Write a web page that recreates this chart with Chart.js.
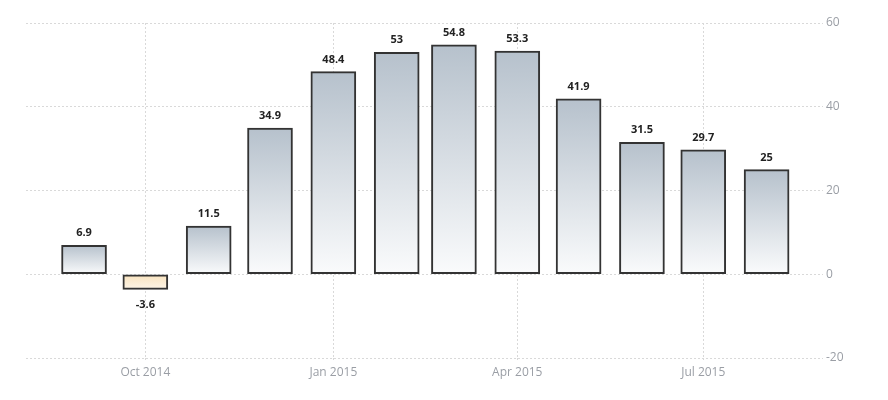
<!DOCTYPE html>
<html>
<head>
<meta charset="utf-8">
<script src="https://cdn.jsdelivr.net/npm/chart.js@4"></script>
<style>
  html, body { margin: 0; padding: 0; background: #fff; }
  #wrap { width: 888px; height: 400px; position: relative; }
</style>
</head>
<body>
<div id="wrap"><canvas id="c" width="888" height="400"></canvas></div>
<script>
// ---- data ----
const months = ['2014-09-01','2014-10-01','2014-11-01','2014-12-01','2015-01-01','2015-02-01',
                '2015-03-01','2015-04-01','2015-05-01','2015-06-01','2015-07-01','2015-08-01'];
const values = [6.9, -3.6, 11.5, 34.9, 48.4, 53, 54.8, 53.3, 41.9, 31.5, 29.7, 25];
const tickDates = ['2014-10-01','2015-01-01','2015-04-01','2015-07-01'];
const tickLabels = ['Oct 2014','Jan 2015','Apr 2015','Jul 2015'];
const yTicks = [-20, 0, 20, 40, 60];

const origin = Date.parse('2014-10-01T00:00:00Z');
const dayOf = d => (Date.parse(d + 'T00:00:00Z') - origin) / 86400000;

const gridColor = '#d9d9d9';
const labelColor = '#9a9ea5';

const valueLabels = {
  id: 'valueLabels',
  afterDatasetsDraw(chart) {
    const ctx = chart.ctx;
    const meta = chart.getDatasetMeta(0);
    ctx.save();
    ctx.font = 'bold 11px "Open Sans"';
    ctx.fillStyle = '#222';
    ctx.textAlign = 'center';
    ctx.textBaseline = 'middle';
    meta.data.forEach((bar, i) => {
      const v = values[i];
      const y = v >= 0 ? bar.y - 12 : bar.y + 16;
      ctx.fillText(String(v), bar.x, y);
    });
    ctx.restore();
  }
};

new Chart(document.getElementById('c'), {
  type: 'bar',
  data: {
    datasets: [{
      data: months.map((m, i) => ({ x: dayOf(m), y: values[i] })),
      barThickness: 45,
      borderWidth: 2,
      borderColor: '#333',
      borderSkipped: false,
      backgroundColor(ctx) {
        const chart = ctx.chart;
        if (!chart.chartArea || !ctx.raw) return '#c8d0d9';
        const ys = chart.scales.y;
        const v = ctx.raw.y;
        const top = ys.getPixelForValue(v);
        const zero = ys.getPixelForValue(0);
        if (v >= 0) {
          const g = chart.ctx.createLinearGradient(0, top, 0, zero);
          g.addColorStop(0, '#b6c1cc');
          g.addColorStop(1, '#fafbfc');
          return g;
        } else {
          const g = chart.ctx.createLinearGradient(0, zero, 0, top);
          g.addColorStop(0, '#f8e2bd');
          g.addColorStop(1, '#fdf5e8');
          return g;
        }
      }
    }]
  },
  options: {
    responsive: false,
    animation: false,
    layout: { padding: { top: 23, left: 26, right: 0, bottom: 0 } },
    plugins: { legend: { display: false }, tooltip: { enabled: false } },
    scales: {
      x: {
        type: 'linear',
        offset: false,
        min: -58.4,
        max: 331.6,
        afterBuildTicks(scale) {
          scale.ticks = tickDates.map(d => ({ value: dayOf(d) }));
        },
        afterFit(scale) { scale.height = 42; },
        border: { display: false, dash: [2, 2] },
        grid: {
          offset: false,
          color: gridColor,
          tickColor: gridColor,
          tickLength: 4,
          tickBorderDash: [2, 2]
        },
        ticks: {
          color: labelColor,
          font: { family: '"Open Sans"', size: 12 },
          padding: 3,
          maxRotation: 0,
          autoSkip: false,
          callback(value) {
            const idx = tickDates.findIndex(d => dayOf(d) === value);
            return idx >= 0 ? tickLabels[idx] : '';
          }
        }
      },
      y: {
        position: 'right',
        min: -20,
        max: 60,
        afterBuildTicks(scale) {
          scale.ticks = yTicks.map(v => ({ value: v }));
        },
        afterFit(scale) { scale.width = 65; },
        border: { display: false, dash: [2, 2] },
        grid: {
          color: gridColor,
          drawTicks: false
        },
        ticks: {
          color: labelColor,
          font: { family: '"Open Sans"', size: 12 },
          padding: 3
        }
      }
    }
  },
  plugins: [valueLabels]
});
</script>
</body>
</html>
